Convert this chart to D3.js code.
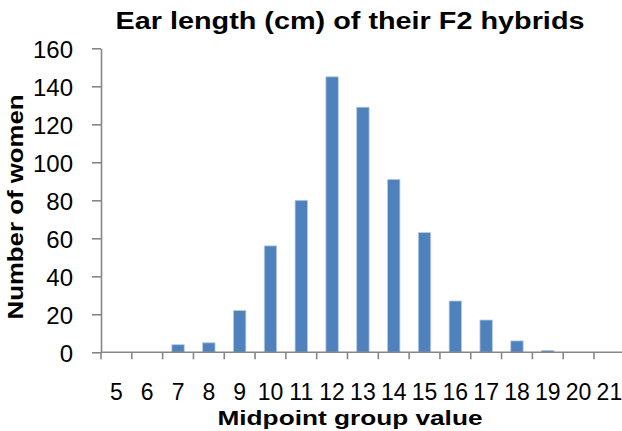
<!DOCTYPE html>
<html>
<head>
<meta charset="utf-8">
<script src="https://cdn.jsdelivr.net/npm/d3@7"></script>
<style>
html,body{margin:0;padding:0;background:#fff;}
svg{display:block;}
text{font-family:"Liberation Sans",Arial,sans-serif;fill:#000;}
</style>
</head>
<body>
<svg id="chart" width="622" height="431"></svg>
<script>
const categories = ["5","6","7","8","9","10","11","12","13","14","15","16","17","18","19","20","21"];
const counts = [0,0,4,5,22,56,80,145,129,91,63,27,17,6,1,0,0];
const yTicks = [0,20,40,60,80,100,120,140,160];
const title = "Ear length (cm) of their F2 hybrids";
const xTitle = "Midpoint group value";
const yTitle = "Number of women";

(function(){
const svg = d3.select("#chart");
const mLeft = 101, mRight = 624.8, mTop = 48.3, mBottom = 352.3;

const x = d3.scaleBand().domain(categories).range([mLeft, mRight]).paddingInner(0).paddingOuter(0);
const y = d3.scaleLinear().domain([0,160]).range([mBottom, mTop]);

const axisColor = "#868686";

// bars
svg.append("g").selectAll("rect").data(categories).join("rect")
  .attr("x", (d)=> x(d) + x.bandwidth()/2 - 6.2)
  .attr("width", 12.4)
  .attr("y", (d,i)=> y(counts[i]))
  .attr("height", (d,i)=> mBottom - y(counts[i]))
  .attr("fill", "#4F81BD")
  .attr("stroke", "#B7CBE6")
  .attr("stroke-width", 0.8);

// y axis
const yAxis = d3.axisLeft(y).tickValues(yTicks).tickSize(9).tickPadding(19).tickSizeOuter(0);
const gy = svg.append("g").attr("transform", `translate(${mLeft},0)`).call(yAxis);
gy.select(".domain").attr("stroke", axisColor).attr("stroke-width", 1.6);
gy.selectAll(".tick line").attr("stroke", axisColor).attr("stroke-width", 1.6);
gy.selectAll(".tick text").attr("font-size", 24).attr("font-family", "Liberation Sans, Arial, sans-serif").attr("dy", "0.38em").attr("fill","#000");

// x axis: ticks at band boundaries
const gx = svg.append("g");
gx.append("line").attr("x1", mLeft).attr("x2", 622).attr("y1", mBottom).attr("y2", mBottom)
  .attr("stroke", axisColor).attr("stroke-width", 1.6);
const bounds = categories.map(c => x(c));
gx.selectAll("line.tk").data(bounds).join("line").attr("class","tk")
  .attr("x1", d=>d).attr("x2", d=>d).attr("y1", mBottom).attr("y2", mBottom+7)
  .attr("stroke", axisColor).attr("stroke-width", 1.6);
gx.selectAll("text").data(categories).join("text")
  .attr("x", d => x(d) + x.bandwidth()/2)
  .attr("y", 399.5)
  .attr("text-anchor", "middle")
  .attr("font-size", 23)
  .text(d => d);

// titles
svg.append("text").attr("x", 350).attr("y", 29).attr("text-anchor","middle")
  .attr("font-size", 24).attr("font-weight","bold")
  .attr("textLength", 469).attr("lengthAdjust","spacingAndGlyphs")
  .text(title);
svg.append("text").attr("x", 350).attr("y", 424.5).attr("text-anchor","middle")
  .attr("font-size", 21).attr("font-weight","bold")
  .attr("textLength", 265).attr("lengthAdjust","spacingAndGlyphs")
  .text(xTitle);
svg.append("text").attr("transform","translate(23,207) rotate(-90)").attr("text-anchor","middle")
  .attr("font-size", 22).attr("font-weight","bold")
  .attr("textLength", 225).attr("lengthAdjust","spacingAndGlyphs")
  .text(yTitle);
})();
</script>
</body>
</html>
